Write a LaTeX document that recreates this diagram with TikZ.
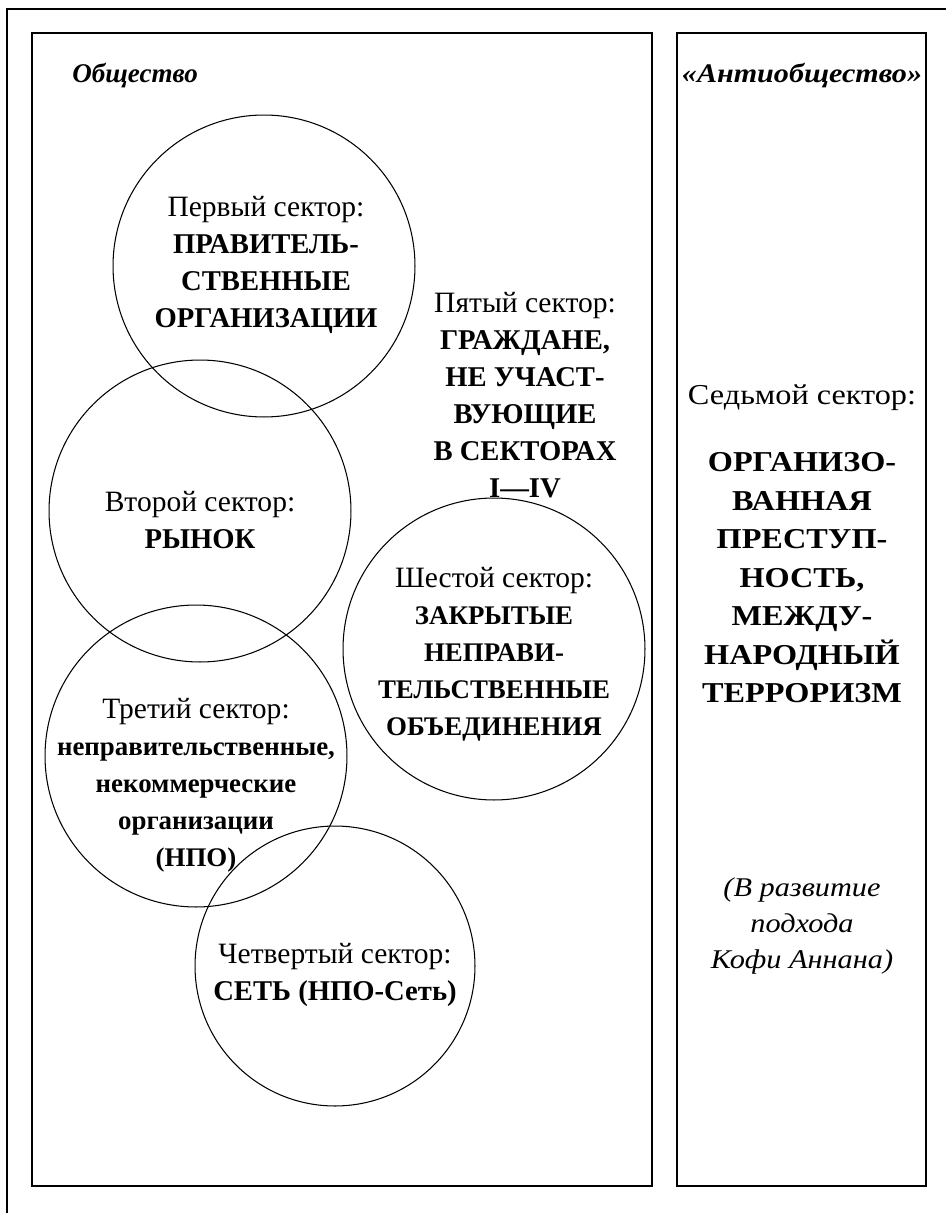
\documentclass[tikz,border=0pt]{standalone}
\usepackage{fontspec}
\setmainfont{Liberation Serif}
\newfontfamily\widefont[FakeStretch=1.12]{Liberation Serif}
\newcommand{\bigbold}[1]{{\fontsize{16.3}{21.1}\selectfont\bfseries #1}}
\newcommand{\smallbold}[1]{{\fontsize{15.3}{21.1}\selectfont\bfseries #1}}
\usepackage{tikz}

\begin{document}
\begin{tikzpicture}[x=0.02cm, y=-0.02cm,
	sector/.style={align=center, inner sep=0pt, font=\fontsize{16.8}{21.1}\selectfont},
	antisector/.style={align=center, inner sep=0pt, font=\widefont\fontsize{16.4}{21.9}\selectfont},
	heading/.style={inner sep=0pt, font=\fontsize{15.4}{21.1}\selectfont\bfseries\itshape},
	ring/.style={line width=0.6pt},
	frame/.style={line width=0.9pt}]
		\useasboundingbox (0,0) rectangle (946,1213);
		\coordinate (FL) at (7,1213);
		\coordinate (FC) at (7,9);
		\coordinate (FR) at (946,9);
		\draw[frame] (FL) -- (FC) -- (FR);
		\draw[frame] (32,33) rectangle (652,1186);
		\draw[frame] (677,33) rectangle (926,1186);
		\coordinate (S1) at (264,266);
		\coordinate (S2) at (200,511);
		\coordinate (S3) at (196,756);
		\coordinate (S4) at (335,966);
		\coordinate (S6) at (494,649);
		\draw[ring] (S1) circle (3.02cm);
		\draw[ring] (S2) circle (3.02cm);
		\draw[ring] (S3) circle (3.02cm);
		\draw[ring] (S4) circle (2.8cm);
		\draw[ring] (S6) circle (3.02cm);
		\node[heading, anchor=west] (soc) at (72,76) {Общество};
		\node[heading, font=\widefont\fontsize{15.3}{21.1}\selectfont\bfseries\itshape] (antisoc) at (802,76) {«Антиобщество»};
		\node[sector] (first) at (266,265) {Первый сектор:\\ \bigbold{ПРАВИТЕЛЬ-}\\ \bigbold{СТВЕННЫЕ}\\ \bigbold{ОРГАНИЗАЦИИ}};
		\node[sector] (fifth) at (525,395) {Пятый сектор:\\ \bigbold{ГРАЖДАНЕ,}\\ \bigbold{НЕ УЧАСТ-}\\ \bigbold{ВУЮЩИЕ}\\ \bigbold{В СЕКТОРАХ}\\ \bigbold{I—IV}};
		\node[sector] (second) at (200,520) {Второй сектор:\\ \bigbold{РЫНОК}};
		\node[sector] (sixth) at (494,654) {Шестой сектор:\\ \smallbold{ЗАКРЫТЫЕ}\\ \smallbold{НЕПРАВИ-}\\ \smallbold{ТЕЛЬСТВЕННЫЕ}\\ \smallbold{ОБЪЕДИНЕНИЯ}};
		\node[sector] (third) at (196,785) {Третий сектор:\\ \smallbold{неправительственные,}\\ \smallbold{некоммерческие}\\ \smallbold{организации}\\ \smallbold{(НПО)}};
		\node[sector] (fourth) at (335,975) {Четвертый сектор:\\ \bigbold{СЕТЬ (НПО-Сеть)}};
		\node[antisector] (seventh) at (802,398) {Седьмой сектор:};
		\node[antisector, font=\widefont\fontsize{16.4}{21.9}\selectfont\bfseries] (crime) at (802,578) {ОРГАНИЗО-\\ ВАННАЯ\\ ПРЕСТУП-\\ НОСТЬ,\\ МЕЖДУ-\\ НАРОДНЫЙ\\ ТЕРРОРИЗМ};
		\node[antisector, font=\widefont\fontsize{15.4}{20.5}\selectfont\itshape] (annan) at (802,926) {(В развитие\\ подхода\\ Кофи Аннана)};
\end{tikzpicture}
\end{document}
